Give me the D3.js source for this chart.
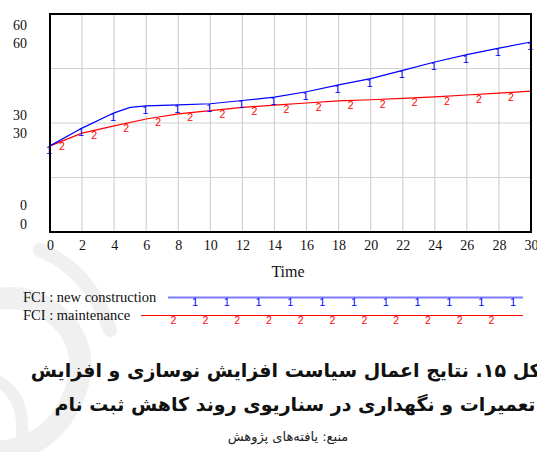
<!DOCTYPE html>
<html>
<head>
<meta charset="utf-8">
<script src="https://cdn.jsdelivr.net/npm/d3@7"></script>
<style>
  html, body { margin: 0; padding: 0; background: #fff; }
  #wrap { position: relative; width: 537px; height: 452px; overflow: hidden; }
  svg { position: absolute; left: 0; top: 0; }
  .cap { position: absolute; direction: rtl; white-space: nowrap; text-align: center;
         transform: translateX(-50%); font-family: "DejaVu Sans", sans-serif; color: #111; }
</style>
</head>
<body>
<div id="wrap"></div>
<script>
// ---------------- data ----------------
const timeNew = [0, 2, 4, 5, 6, 8, 10, 12, 14, 16, 18, 20, 22, 24, 26, 28, 30];
const fciNew  = [23.7, 28.6, 32.8, 34.3, 34.7, 35.0, 35.3, 36.2, 37.1, 38.6, 40.5, 42.2, 44.5, 46.8, 48.8, 50.6, 52.3];
const timeMaint = [0, 2, 4, 6, 8, 10, 12, 14, 16, 18, 20, 22, 24, 26, 28, 30];
const fciMaint  = [23.7, 27.2, 29.2, 31.1, 32.5, 33.4, 34.3, 34.9, 35.5, 36.1, 36.4, 36.8, 37.2, 37.7, 38.2, 38.8];
const xTicks = [0, 2, 4, 6, 8, 10, 12, 14, 16, 18, 20, 22, 24, 26, 28, 30];
const yGrid = [15, 30, 45];
const yLabelValues = [60, 30, 0];          // each printed twice (two variables share the scale)
const seriesNames = ["FCI : new construction", "FCI : maintenance"];
const markerChars = ["1", "2"];
const captionLines = [
  "شکل ۱۵. نتایج اعمال سیاست افزایش نوسازی و افزایش",
  "تعمیرات و نگهداری در سناریوی روند کاهش ثبت نام"
];
const sourceLine = "منبع: یافته‌های پژوهش";

// ---------------- layout ----------------
const W = 537, H = 452;
const plot = { left: 50, right: 531, top: 14, bottom: 232 };
const x = d3.scaleLinear().domain([0, 30]).range([plot.left, plot.right]);
const y = d3.scaleLinear().domain([0, 60]).range([plot.bottom, plot.top]);

const wrap = d3.select("#wrap");
const svg = wrap.append("svg").attr("width", W).attr("height", H);

// faint watermark swirl on the left
const wm = svg.append("g").attr("fill", "none").attr("stroke", "#f0f0f0").attr("stroke-linecap", "round");
wm.append("path").attr("stroke-width", 22).attr("d", "M-10,300 Q40,290 70,330 Q95,370 60,420 Q35,452 -10,452");
wm.append("path").attr("stroke-width", 14).attr("d", "M40,250 Q90,270 110,330");
wm.append("path").attr("stroke-width", 12).attr("d", "M-5,380 Q30,395 20,452");

const serif = "'Liberation Serif', 'Times New Roman', serif";
const sans = "'Liberation Sans', Arial, sans-serif";

// grid
const grid = svg.append("g").attr("stroke", "#d2d2d2").attr("stroke-width", 1.2);
grid.selectAll("line.v").data(xTicks.slice(1, -1)).join("line")
  .attr("x1", d => x(d)).attr("x2", d => x(d)).attr("y1", plot.top).attr("y2", plot.bottom);
grid.selectAll("line.h").data(yGrid).join("line")
  .attr("x1", plot.left).attr("x2", plot.right).attr("y1", d => y(d)).attr("y2", d => y(d));

// x axis labels via d3 axis
const xAxis = svg.append("g").attr("transform", `translate(0,${plot.bottom})`)
  .call(d3.axisBottom(x).tickValues(xTicks).tickSize(0).tickPadding(8).tickFormat(d3.format("d")));
xAxis.select(".domain").remove();
xAxis.selectAll("text").attr("font-family", serif).attr("font-size", 14).attr("fill", "#111");

// y labels (Vensim style, doubled)
const yl = svg.append("g").attr("font-family", serif).attr("font-size", 14).attr("fill", "#111").attr("text-anchor", "end");
const yOffsets = { 60: [16, 34], 30: [-3, 15], 0: [-22, -3] };
yLabelValues.forEach(v => {
  yOffsets[v].forEach(off => {
    yl.append("text").attr("x", 27).attr("y", y(v) + off).text(v);
  });
});

// series lines
const line = d3.line().x(d => x(d[0])).y(d => y(d[1]));
const newPts = timeNew.map((t, i) => [t, fciNew[i]]);
const maintPts = timeMaint.map((t, i) => [t, fciMaint[i]]);
svg.append("path").attr("d", line(maintPts)).attr("fill", "none").attr("stroke", "#ff0000").attr("stroke-width", 1.2);
svg.append("path").attr("d", line(newPts)).attr("fill", "none").attr("stroke", "#0000ff").attr("stroke-width", 1.2);

// markers
function interp(ts, vs, t) {
  const i = Math.min(d3.bisectRight(ts, t), ts.length - 1);
  if (i === 0) return vs[0];
  const t0 = ts[i - 1], t1 = ts[i];
  return vs[i - 1] + (vs[i] - vs[i - 1]) * (t - t0) / (t1 - t0);
}
const newMarkT = d3.range(0, 30.01, 2);
const maintMarkT = d3.range(0.75, 30, 2);
svg.append("g").attr("font-family", sans).attr("font-size", 11).attr("fill", "#0000ff").attr("text-anchor", "middle")
  .selectAll("text").data(newMarkT).join("text")
  .attr("x", t => x(t) - 1).attr("y", t => y(interp(timeNew, fciNew, t)) + 8).text(markerChars[0]);
svg.append("g").attr("font-family", sans).attr("font-size", 10.5).attr("fill", "#ff0000").attr("text-anchor", "middle")
  .selectAll("text").data(maintMarkT).join("text")
  .attr("x", t => x(t)).attr("y", t => y(interp(timeMaint, fciMaint, t)) + 8.5).text(markerChars[1]);

// plot border
svg.append("rect").attr("x", plot.left).attr("y", plot.top)
  .attr("width", plot.right - plot.left).attr("height", plot.bottom - plot.top)
  .attr("fill", "none").attr("stroke", "#000").attr("stroke-width", 2);

// axis title
svg.append("text").attr("x", 288).attr("y", 277).attr("text-anchor", "middle")
  .attr("font-family", serif).attr("font-size", 16).attr("fill", "#111").text("Time");

// legend
const legend = [
  { y: 297.5, x0: 168, color: "#7b7bff", width: 2, first: 195 },
  { y: 315.5, x0: 141, color: "#ff0000", width: 1.2, first: 173.5 }
];
const legendEnd = 523, legendStep = 31.8;
legend.forEach((L, i) => {
  svg.append("text").attr("x", 23).attr("y", L.y + 4.5).attr("font-family", serif)
    .attr("font-size", 14.5).attr("fill", "#111").text(seriesNames[i]);
  svg.append("line").attr("x1", L.x0).attr("x2", legendEnd).attr("y1", L.y).attr("y2", L.y)
    .attr("stroke", L.color).attr("stroke-width", L.width);
  const marks = d3.range(0, 11).map(k => L.first + k * legendStep);
  svg.append("g").attr("font-family", sans).attr("font-size", i === 0 ? 11 : 10.5)
    .attr("fill", i === 0 ? "#0000ff" : "#ff0000").attr("text-anchor", "middle")
    .selectAll("text").data(marks).join("text")
    .attr("x", d => d).attr("y", L.y + 8.5).text(markerChars[i]);
});

// caption (RTL, centred block; the first line runs past the frame as in the source)
captionLines.forEach((txt, i) => {
  wrap.append("div").attr("class", "cap")
    .style("left", "295px").style("top", (354 + i * 34) + "px")
    .style("font-size", "19px").style("font-weight", "bold").style("line-height", "32px")
    .text(txt);
});
wrap.append("div").attr("class", "cap")
  .style("left", "288px").style("top", "427px")
  .style("font-size", "13px").style("line-height", "20px").style("color", "#222")
  .text(sourceLine);
</script>
</body>
</html>
